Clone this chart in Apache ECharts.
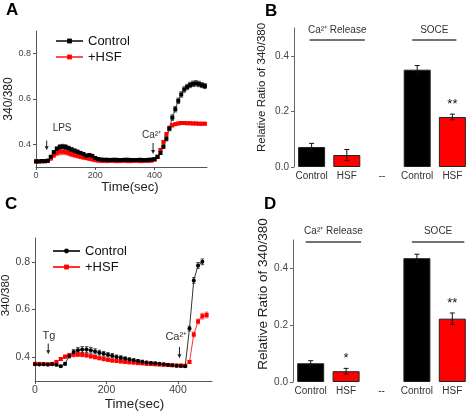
<!DOCTYPE html>
<html>
<head>
<meta charset="utf-8">
<script src="https://cdn.jsdelivr.net/npm/echarts@6/dist/echarts.min.js"></script>
<style>
  html, body { margin: 0; padding: 0; background: #fff; }
  #chart { width: 472px; height: 413px; }
</style>
</head>
<body>
<div id="chart"></div>
<script>
// ---- panel A: LPS then Ca2+ (time in sec, 340/380 ratio) ----
const timeA = [0, 10, 20, 30, 40, 50, 60, 70, 80, 90, 100, 110, 120, 130, 140, 150, 160, 170, 180, 190,
  200, 210, 220, 230, 240, 250, 260, 270, 280, 290, 300, 310, 320, 330, 340, 350, 360, 370, 380, 390,
  400, 410, 420, 430, 440, 450, 460, 470, 480, 490, 500, 510, 520, 530, 540, 550, 560, 570];
const controlA = [0.325, 0.325, 0.326, 0.326, 0.328,
  0.345, 0.365, 0.380, 0.388, 0.390, 0.388, 0.383, 0.377, 0.372, 0.367, 0.362, 0.357, 0.350, 0.353, 0.349, 0.340, 0.335, 0.333,
  0.332, 0.332, 0.331, 0.332, 0.332, 0.331, 0.331, 0.332, 0.332, 0.331, 0.331, 0.331, 0.332, 0.331, 0.331, 0.332, 0.333,
  0.335, 0.345, 0.362, 0.390, 0.425, 0.470, 0.518, 0.555, 0.592, 0.620, 0.642, 0.653, 0.662, 0.667, 0.669, 0.666, 0.661, 0.657];
const controlErrA = [0.004, 0.004, 0.004, 0.004, 0.004,
  0.006, 0.008, 0.009, 0.010, 0.010, 0.010, 0.009, 0.009, 0.008, 0.008, 0.007, 0.007, 0.007, 0.006, 0.006, 0.005, 0.004, 0.004,
  0.003, 0.003, 0.003, 0.003, 0.003, 0.003, 0.003, 0.003, 0.003, 0.003, 0.003, 0.003, 0.003, 0.003, 0.003, 0.003, 0.003,
  0.004, 0.005, 0.006, 0.008, 0.010, 0.010, 0.012, 0.012, 0.012, 0.012, 0.012, 0.012, 0.012, 0.012, 0.012, 0.012, 0.011, 0.011];
const hsfA = [0.324, 0.324, 0.325, 0.325, 0.327,
  0.338, 0.352, 0.362, 0.367, 0.368, 0.366, 0.362, 0.357, 0.353, 0.349, 0.345, 0.342, 0.339, 0.336, 0.333, 0.330, 0.328,
  0.327, 0.327, 0.326, 0.327, 0.327, 0.326, 0.326, 0.327, 0.327, 0.326, 0.326, 0.327, 0.327, 0.326, 0.326, 0.327, 0.327, 0.328,
  0.332, 0.345, 0.375, 0.410, 0.445, 0.470, 0.484, 0.489, 0.492, 0.494,
  0.494, 0.493, 0.493, 0.492, 0.492, 0.491, 0.491, 0.491];
const hsfErrA = [0.004, 0.004, 0.004, 0.004, 0.004,
  0.008, 0.010, 0.012, 0.013, 0.013, 0.012, 0.012, 0.011, 0.010, 0.009, 0.008, 0.007, 0.006, 0.005, 0.005, 0.004, 0.004,
  0.003, 0.003, 0.003, 0.003, 0.003, 0.003, 0.003, 0.003, 0.003, 0.003, 0.003, 0.003, 0.003, 0.003, 0.003, 0.003, 0.003, 0.003,
  0.004, 0.005, 0.006, 0.007, 0.007, 0.007, 0.007, 0.006, 0.006, 0.006,
  0.006, 0.006, 0.006, 0.006, 0.006, 0.006, 0.006, 0.006];

// ---- panel C: Tg then Ca2+ ----
const timeC = [0, 12, 24, 36, 48, 60, 72, 84, 96, 108, 120, 132, 144, 156, 168, 180, 192, 204, 216, 228,
  240, 252, 264, 276, 288, 300, 312, 324, 336, 348, 360, 372, 384, 396, 408, 420, 432, 444, 456, 468, 480];
const controlC = [0.370, 0.369, 0.370, 0.369, 0.370, 0.368, 0.362, 0.372, 0.405, 0.422, 0.429, 0.432, 0.432, 0.429,
  0.424, 0.419, 0.414, 0.410, 0.406, 0.401, 0.398, 0.394, 0.390, 0.387, 0.384, 0.381, 0.378, 0.376, 0.374, 0.372,
  0.370, 0.368, 0.366, 0.364, 0.363, 0.362, 0.520, 0.722, 0.785, 0.800];
const controlErrC = [0.004, 0.004, 0.004, 0.004, 0.004, 0.005, 0.005, 0.006, 0.008, 0.010, 0.011, 0.012, 0.012, 0.012,
  0.011, 0.010, 0.010, 0.009, 0.009, 0.008, 0.008, 0.007, 0.007, 0.006, 0.006, 0.006, 0.005, 0.005, 0.005, 0.005,
  0.004, 0.004, 0.004, 0.004, 0.004, 0.004, 0.010, 0.012, 0.012, 0.012];
const hsfC = [0.372, 0.372, 0.371, 0.370, 0.372, 0.380, 0.392, 0.402, 0.408, 0.410, 0.411, 0.410, 0.408, 0.404,
  0.400, 0.396, 0.392, 0.389, 0.386, 0.384, 0.382, 0.380, 0.378, 0.377, 0.375, 0.374, 0.372, 0.371, 0.370, 0.369,
  0.368, 0.367, 0.366, 0.365, 0.365, 0.364, 0.380, 0.495, 0.550, 0.572, 0.577];
const hsfErrC = [0.005, 0.005, 0.005, 0.005, 0.005, 0.006, 0.006, 0.007, 0.008, 0.008, 0.008, 0.008, 0.008, 0.008,
  0.007, 0.007, 0.007, 0.006, 0.006, 0.006, 0.006, 0.005, 0.005, 0.005, 0.005, 0.005, 0.005, 0.005, 0.005, 0.005,
  0.005, 0.005, 0.005, 0.005, 0.005, 0.005, 0.006, 0.010, 0.010, 0.012, 0.012];

const lineYTicks = [0.4, 0.6, 0.8];
const lineXTicks = [0, 200, 400];

// ---- panels B and D: bars ----
const barCats = ['Control', 'HSF', '--', 'Control', 'HSF'];
const barColors = ['#000', '#ff0000', '#000', '#000', '#ff0000'];
const barB = [0.072, 0.043, null, 0.350, 0.180];
const barErrB = [0.013, 0.020, null, 0.015, 0.010];
const sigB = ['', '', '', '', '**'];
const barD = [0.066, 0.038, null, 0.436, 0.223];
const barErrD = [0.009, 0.010, null, 0.014, 0.020];
const sigD = ['', '*', '', '', '**'];
const barYTicks = [0, 0.2, 0.4];

const FONT = '"Liberation Sans", Arial, Helvetica, sans-serif';
const chart = echarts.init(document.getElementById('chart'));

function lineErrSeries(gi, times, vals, errs, color) {
  return {
    type: 'custom', xAxisIndex: gi, yAxisIndex: gi, silent: true, z: 1,
    data: vals.map((v, i) => [times[i], v, errs[i]]),
    renderItem: (params, api) => {
      const x = api.value(0), y = api.value(1), e = api.value(2);
      const t = api.coord([x, y + e]), b = api.coord([x, y - e]);
      const st = { stroke: color, lineWidth: 0.8 };
      return { type: 'group', children: [
        { type: 'line', shape: { x1: t[0], y1: t[1], x2: b[0], y2: b[1] }, style: st },
        { type: 'line', shape: { x1: t[0] - 1.8, y1: t[1], x2: t[0] + 1.8, y2: t[1] }, style: st },
        { type: 'line', shape: { x1: b[0] - 1.8, y1: b[1], x2: b[0] + 1.8, y2: b[1] }, style: st }
      ] };
    }
  };
}

function lineSeries(gi, name, times, vals, color, lineColor, symbol) {
  return {
    type: 'line', name, xAxisIndex: gi, yAxisIndex: gi, z: 2,
    data: vals.map((v, i) => [times[i], v]),
    symbol, symbolSize: 4, showSymbol: true,
    itemStyle: { color }, lineStyle: { color: lineColor, width: 1 },
    emphasis: { disabled: true }
  };
}

function barErrSeries(gi, vals, errs, sig) {
  const data = [];
  vals.forEach((v, i) => { if (v != null) data.push([i, v, errs[i]]); });
  return {
    type: 'custom', xAxisIndex: gi, yAxisIndex: gi, silent: true, z: 5,
    data,
    renderItem: (params, api) => {
      const i = api.value(0), y = api.value(1), e = api.value(2);
      const t = api.coord([i, y + e]), b = api.coord([i, y - e]);
      const st = { stroke: '#111', lineWidth: 1 };
      const kids = [
        { type: 'line', shape: { x1: t[0], y1: t[1], x2: b[0], y2: b[1] }, style: st },
        { type: 'line', shape: { x1: t[0] - 2.5, y1: t[1], x2: t[0] + 2.5, y2: t[1] }, style: st },
        { type: 'line', shape: { x1: b[0] - 2.5, y1: b[1], x2: b[0] + 2.5, y2: b[1] }, style: st }
      ];
      const s = sig[i];
      if (s) {
        kids.push({ type: 'text', style: { text: s, x: t[0], y: t[1] - 3, align: 'center', verticalAlign: 'bottom',
          fontSize: 13, fontFamily: FONT, fill: '#111' } });
      }
      return { type: 'group', children: kids };
    }
  };
}

function barSeries(gi, vals) {
  return {
    type: 'bar', xAxisIndex: gi, yAxisIndex: gi, barWidth: 27, z: 3,
    data: vals.map((v, i) => ({ value: v, itemStyle: { color: barColors[i], borderColor: '#222', borderWidth: 1 } })),
    emphasis: { disabled: true }
  };
}

function lineXAxis(gi, max, fontSize, nameSize, nameGap, namePad) {
  return {
    gridIndex: gi, type: 'value', min: 0, max,
    name: 'Time(sec)', nameLocation: 'middle', nameGap,
    nameTextStyle: { fontSize: nameSize, color: '#222', fontFamily: FONT, padding: namePad },
    axisLine: { lineStyle: { color: '#555', width: 1 } },
    axisTick: { length: 3, lineStyle: { color: '#555' }, customValues: lineXTicks },
    axisLabel: { customValues: lineXTicks, fontSize, color: '#444', fontFamily: FONT, margin: 4 },
    splitLine: { show: false }
  };
}

function lineYAxis(gi, fontSize, nameSize, nameGap, namePad) {
  return {
    gridIndex: gi, type: 'value', min: 0.3, max: 0.9,
    name: '340/380', nameLocation: 'middle', nameGap,
    nameTextStyle: { fontSize: nameSize, color: '#222', fontFamily: FONT, padding: namePad },
    axisLine: { show: true, lineStyle: { color: '#555', width: 1 } },
    axisTick: { show: true, length: 3, lineStyle: { color: '#555' }, customValues: lineYTicks },
    axisLabel: { customValues: lineYTicks, fontSize, color: '#444', fontFamily: FONT, margin: 5,
      formatter: v => v.toFixed(1) },
    splitLine: { show: false }
  };
}

function barXAxis(gi) {
  return {
    gridIndex: gi, type: 'category', data: barCats,
    axisLine: { show: false }, axisTick: { show: false },
    axisLabel: { fontSize: 10, color: '#333', fontFamily: FONT, margin: 4, interval: 0 }
  };
}

function barYAxis(gi, nameSize, nameGap, namePad) {
  return {
    gridIndex: gi, type: 'value', min: 0, max: 0.5,
    name: 'Relative Ratio of 340/380', nameLocation: 'middle', nameGap,
    nameTextStyle: { fontSize: nameSize, color: '#222', fontFamily: FONT, padding: namePad },
    axisLine: { show: true, lineStyle: { color: '#666', width: 1 } },
    axisTick: { show: true, length: 3, lineStyle: { color: '#666' }, customValues: barYTicks },
    axisLabel: { customValues: barYTicks, fontSize: 10, color: '#444', fontFamily: FONT, margin: 5,
      formatter: v => v.toFixed(1) },
    splitLine: { show: false }
  };
}

function legend(left, top, names) {
  return {
    data: names, left, top, orient: 'vertical', itemWidth: 27, itemHeight: 6, itemGap: 2,
    selectedMode: false, formatter: n => n.trim(),
    textStyle: { fontSize: 13, color: '#111', fontFamily: FONT, lineHeight: 14, padding: [0, 0, 0, 0] }
  };
}

const option = {
  animation: false,
  backgroundColor: '#fff',
  grid: [
    { left: 36, top: 31, width: 171, height: 136, outerBoundsMode: 'none' },
    { left: 294, top: 28, width: 176, height: 139, outerBoundsMode: 'none' },
    { left: 35, top: 238, width: 177, height: 143, outerBoundsMode: 'none' },
    { left: 293, top: 240, width: 177, height: 142, outerBoundsMode: 'none' }
  ],
  legend: [
    legend(50, 29, ['Control', '+HSF']),
    legend(47, 239, ['Control ', '+HSF '])
  ],
  xAxis: [
    lineXAxis(0, 577, 9, 13, 14, [0, 0, 0, 17]),
    barXAxis(1),
    lineXAxis(2, 495, 10.5, 13.5, 16, [0, 0, 0, 22]),
    barXAxis(3)
  ],
  yAxis: [
    lineYAxis(0, 9, 12, 20, [0, 0, 0, 0]),
    barYAxis(1, 11.5, 26, [0, 0, 0, 20]),
    lineYAxis(2, 10.5, 11.5, 21, [0, 0, 0, 28]),
    barYAxis(3, 13.5, 23, [0, 0, 0, 34])
  ],
  series: [
    lineErrSeries(0, timeA, hsfA, hsfErrA, '#ff2a2a'),
    lineErrSeries(0, timeA, controlA, controlErrA, '#222'),
    lineSeries(0, '+HSF', timeA, hsfA, '#ff0000', '#ff5050', 'rect'),
    lineSeries(0, 'Control', timeA, controlA, '#000', '#444', 'rect'),
    barSeries(1, barB),
    barErrSeries(1, barB, barErrB, sigB),
    lineErrSeries(2, timeC, hsfC, hsfErrC, '#ff2a2a'),
    lineErrSeries(2, timeC, controlC, controlErrC, '#222'),
    lineSeries(2, '+HSF ', timeC, hsfC, '#ff0000', '#ff3030', 'rect'),
    lineSeries(2, 'Control ', timeC, controlC, '#000', '#333', 'circle'),
    barSeries(3, barD),
    barErrSeries(3, barD, barErrD, sigD)
  ]
};
chart.setOption(option);

// ---- annotations placed from data coordinates ----
const notes = [
  { g: 0, text: 'LPS', x: 88, y: 0.47, size: 10 },
  { g: 0, text: 'Ca²⁺', x: 390, y: 0.44, size: 10 },
  { g: 2, text: 'Tg', x: 39, y: 0.49, size: 11 },
  { g: 2, text: 'Ca²⁺', x: 395, y: 0.485, size: 11 }
];
const arrows = [
  { g: 0, x: 36, y1: 0.417, y2: 0.374 },
  { g: 0, x: 395, y1: 0.406, y2: 0.357 },
  { g: 2, x: 37, y1: 0.457, y2: 0.412 },
  { g: 2, x: 404, y1: 0.443, y2: 0.395 }
];
const groups = [
  { g: 1, text: 'Ca²⁺ Release', from: 0, to: 1, dl: -2, dr: 18, textY: 0.493, lineY: 0.457 },
  { g: 1, text: 'SOCE', from: 3, to: 4, dl: -5, dr: 4, textY: 0.493, lineY: 0.457 },
  { g: 3, text: 'Ca²⁺ Release', from: 0, to: 1, dl: -5, dr: 15, textY: 0.532, lineY: 0.493 },
  { g: 3, text: 'SOCE', from: 3, to: 4, dl: -5, dr: 12, textY: 0.532, lineY: 0.493 }
];
const letters = [
  { text: 'A', x: 6, y: 2 }, { text: 'B', x: 265, y: 3 },
  { text: 'C', x: 5, y: 196 }, { text: 'D', x: 264, y: 196 }
];

const graphic = [];
notes.forEach(n => {
  const p = chart.convertToPixel({ gridIndex: n.g }, [n.x, n.y]);
  graphic.push({ type: 'text', x: p[0], y: p[1], silent: true,
    style: { text: n.text, align: 'center', verticalAlign: 'middle', fontSize: n.size, fontFamily: FONT, fill: '#333' } });
});
arrows.forEach(a => {
  const t = chart.convertToPixel({ gridIndex: a.g }, [a.x, a.y1]);
  const b = chart.convertToPixel({ gridIndex: a.g }, [a.x, a.y2]);
  graphic.push({ type: 'line', silent: true, shape: { x1: t[0], y1: t[1], x2: b[0], y2: b[1] - 3 },
    style: { stroke: '#222', lineWidth: 1 } });
  graphic.push({ type: 'polygon', silent: true,
    shape: { points: [[b[0] - 2, b[1] - 4], [b[0] + 2, b[1] - 4], [b[0], b[1]]] }, style: { fill: '#222' } });
});
groups.forEach(gr => {
  const l = chart.convertToPixel({ gridIndex: gr.g }, [gr.from, gr.lineY]);
  const r = chart.convertToPixel({ gridIndex: gr.g }, [gr.to, gr.lineY]);
  const ty = chart.convertToPixel({ gridIndex: gr.g }, [gr.from, gr.textY])[1];
  const x1 = l[0] + gr.dl, x2 = r[0] + gr.dr;
  graphic.push({ type: 'line', silent: true, shape: { x1, y1: l[1], x2, y2: l[1] },
    style: { stroke: '#444', lineWidth: 1.5 } });
  graphic.push({ type: 'text', x: (x1 + x2) / 2, y: ty, silent: true,
    style: { text: gr.text, align: 'center', verticalAlign: 'middle', fontSize: 10, fontFamily: FONT, fill: '#333' } });
});
letters.forEach(l => {
  graphic.push({ type: 'text', x: l.x, y: l.y, silent: true,
    style: { text: l.text, fontSize: 17, fontWeight: 'bold', fontFamily: FONT, fill: '#000' } });
});
chart.setOption({ graphic });
</script>
</body>
</html>
